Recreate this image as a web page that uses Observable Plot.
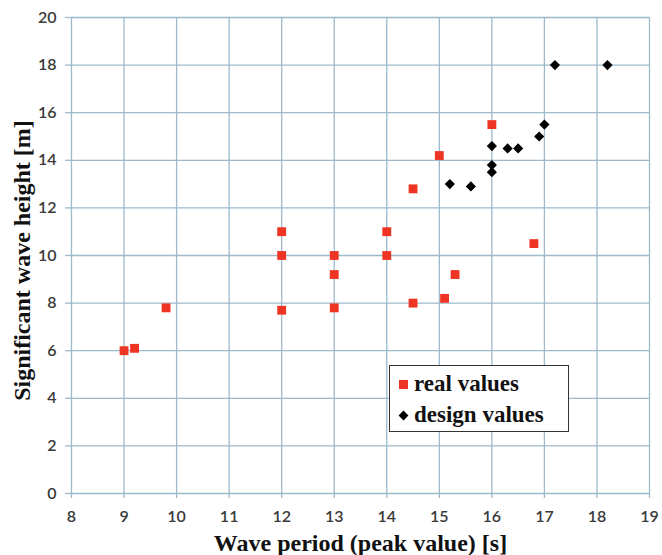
<!DOCTYPE html>
<html>
<head>
<meta charset="utf-8">
<script src="https://cdn.jsdelivr.net/npm/d3@7"></script>
<script src="https://cdn.jsdelivr.net/npm/@observablehq/plot@0.6"></script>
<style>
  body { margin: 0; background: #fff; }
  #wrap { position: relative; width: 662px; height: 555px; }
  #legend {
    position: absolute; left: 389px; top: 365px; width: 178px; height: 65px;
    border: 1.5px solid #333; background: #fff;
    font-family: "Liberation Serif", "DejaVu Serif", serif; font-size: 23px; font-weight: bold; color: #111;
  }
  .row { position: absolute; left: 9px; display: flex; align-items: center; }
  .row span.txt { margin-left: 6px; }
  .sq { width: 9px; height: 9px; background: #ee3524; display: inline-block; }
  .dm { width: 7px; height: 7px; background: #000; display: inline-block; transform: rotate(45deg); margin-left: 1px; margin-right: 1px; }
</style>
</head>
<body>
<div id="wrap"></div>
<script>
const realT = [9, 9.2, 9.8, 12, 12, 12, 13, 13, 13, 14, 14, 14.5, 14.5, 15, 15.1, 15.3, 16, 16.8];
const realH = [6.0, 6.1, 7.8, 11, 10, 7.7, 10, 9.2, 7.8, 11, 10, 12.8, 8.0, 14.2, 8.2, 9.2, 15.5, 10.5];
const designT = [15.2, 15.6, 16, 16, 16, 16.3, 16.5, 16.9, 17, 17.2, 18.2];
const designH = [13.0, 12.9, 14.6, 13.8, 13.5, 14.5, 14.5, 15.0, 15.5, 18, 18];
const xTicks = [8, 9, 10, 11, 12, 13, 14, 15, 16, 17, 18, 19];
const yTicks = [0, 2, 4, 6, 8, 10, 12, 14, 16, 18, 20];
const xTitle = "Wave period (peak value) [s]";
const yTitle = "Significant wave height [m]";
const legendLabels = ["real values", "design values"];

const real = realT.map((t, i) => ({t, h: realH[i]}));
const design = designT.map((t, i) => ({t, h: designH[i]}));
const gridColor = "#9db9cc";
const serif = "Liberation Serif, DejaVu Serif, serif";

const chart = Plot.plot({
  width: 662,
  height: 555,
  marginLeft: 71,
  marginRight: 13,
  marginTop: 17,
  marginBottom: 62,
  x: {domain: [8, 19]},
  y: {domain: [0, 20]},
  style: {background: "#fff"},
  marks: [
    Plot.ruleX(xTicks, {stroke: gridColor, strokeWidth: 1.3}),
    Plot.ruleY(yTicks, {stroke: gridColor, strokeWidth: 1.3}),
    Plot.axisX({ticks: xTicks, tickSize: 5, tickPadding: 12, stroke: gridColor, strokeWidth: 1.3,
      label: null, fontFamily: "Lato, sans-serif", fontSize: 16, fontWeight: 600, fill: "#3a3a3a", tickFormat: d => d}),
    Plot.axisY({ticks: yTicks, tickSize: 6, tickPadding: 9, stroke: gridColor, strokeWidth: 1.3,
      label: null, fontFamily: "Lato, sans-serif", fontSize: 16, fontWeight: 600, fill: "#3a3a3a", tickFormat: d => d}),
    Plot.dot(real, {x: "t", y: "h", symbol: "square", r: 5, fill: "#ee3524", stroke: "none"}),
    Plot.dot(design, {x: "t", y: "h", symbol: "diamond2", r: 4.6, fill: "#000", stroke: "none"}),
    Plot.text([xTitle], {frameAnchor: "bottom", dy: 50, fontFamily: serif, fontSize: 24, fontWeight: "bold",
      fill: "#111", lineAnchor: "middle", textAnchor: "middle"}),
    Plot.text([yTitle], {frameAnchor: "left", dx: -49, dy: 5, rotate: -90, fontFamily: serif, fontSize: 24,
      fontWeight: "bold", fill: "#111", lineAnchor: "middle", textAnchor: "middle"})
  ]
});
const wrap = document.getElementById("wrap");
wrap.appendChild(chart);

const legend = document.createElement("div");
legend.id = "legend";
legend.innerHTML =
  `<div class="row" style="top:5px"><span class="sq"></span><span class="txt">${legendLabels[0]}</span></div>` +
  `<div class="row" style="top:36px"><span class="dm"></span><span class="txt">${legendLabels[1]}</span></div>`;
wrap.appendChild(legend);
</script>
</body>
</html>
